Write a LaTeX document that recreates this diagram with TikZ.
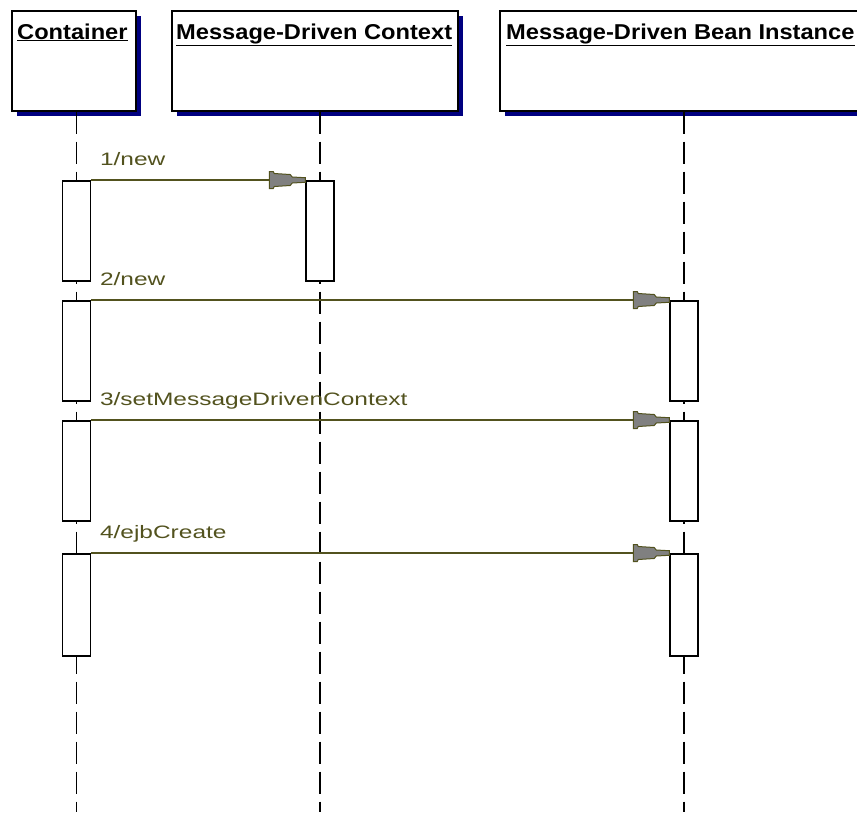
\documentclass[tikz,border=0pt]{standalone}
\usepackage{fontspec}
\newfontfamily\headfont[FakeStretch=1.1]{Liberation Sans}
\newfontfamily\msgfont[FakeStretch=1.36]{Liberation Sans}
\usepackage{tikz}
\usetikzlibrary{arrows.meta}
\usetikzlibrary{shadows}
\usetikzlibrary{positioning,calc}
\definecolor{shadownavy}{RGB}{0,0,128}
\definecolor{msgolive}{RGB}{82,82,30}
\definecolor{tipgray}{RGB}{128,128,128}

% flared message tip: grey body, outline in the line colour
\pgfdeclarearrow{
  name = Funnel,
  setup code = {
    \pgfarrowssettipend{0pt}
    \pgfarrowssetlineend{-20pt}
    \pgfarrowssetbackend{-36pt}
    \pgfarrowssetvisualbackend{-36pt}
    \pgfarrowshullpoint{0pt}{0pt}
    \pgfarrowsupperhullpoint{-36pt}{8.5pt}
  },
  drawing code = {
    \pgfsetfillcolor{tipgray}
    \pgfsetlinewidth{1pt}
    \pgfsetmiterjoin
    \pgfpathmoveto{\pgfqpoint{0pt}{2.3pt}}
    \pgfpathlineto{\pgfqpoint{-13pt}{3pt}}
    \pgfpathlineto{\pgfqpoint{-15pt}{5.5pt}}
    \pgfpathlineto{\pgfqpoint{-31pt}{6.5pt}}
    \pgfpathlineto{\pgfqpoint{-32pt}{8.5pt}}
    \pgfpathlineto{\pgfqpoint{-36pt}{8.5pt}}
    \pgfpathlineto{\pgfqpoint{-36pt}{-8.5pt}}
    \pgfpathlineto{\pgfqpoint{-32pt}{-8.5pt}}
    \pgfpathlineto{\pgfqpoint{-31pt}{-6.5pt}}
    \pgfpathlineto{\pgfqpoint{-15pt}{-5.5pt}}
    \pgfpathlineto{\pgfqpoint{-13pt}{-3pt}}
    \pgfpathlineto{\pgfqpoint{0pt}{-2.3pt}}
    \pgfpathclose
    \pgfusepathqfillstroke
  }
}

\tikzstyle{object} = [draw, line width=1.5pt, fill=white, anchor=north west, inner sep=0pt, minimum height=100pt, drop shadow={shadow xshift=5pt, shadow yshift=-5pt, fill=shadownavy, opacity=1}]
\tikzstyle{object_title} = [anchor=base west, inner sep=0pt, font=\headfont\bfseries\fontsize{21.5}{24}\selectfont]
\tikzstyle{lifeline} = [draw, line width=1.8pt, dash pattern=on 22pt off 8pt]
\tikzstyle{activation} = [draw, fill=white, line width=1.5pt, minimum width=28pt, inner sep=0pt, anchor=north]
\tikzstyle{arrow_msg} = [-Funnel, draw=msgolive, line width=1.5pt]
\tikzstyle{msg_label} = [anchor=base west, inner sep=0pt, text=msgolive, pos=0, xshift=8pt, yshift=14.5pt, font=\msgfont\fontsize{18}{20}\selectfont]

\begin{document}
\begin{tikzpicture}[x=1pt, y=-1pt]
      \useasboundingbox (0,0) rectangle (857,812);

      % Objects
      \node[object, minimum width=124pt] (container) at (11,10) {};
      \node[object, minimum width=286pt] (context) at (171,10) {};
      \node[object, minimum width=400pt] (bean) at (499,10) {};
      \node[object_title] (container_t) at ($(container.north west)+(6,29)$) {\underline{Container}};
      \node[object_title] (context_t) at ($(context.north west)+(5,29)$) {\underline{Message-Driven Context}};
      \node[object_title] (bean_t) at ($(bean.north west)+(7,29)$) {\underline{Message-Driven Bean Instance}};

      % Lifelines
      \coordinate (container_end) at (76.5,812);
      \coordinate (context_end) at (320,812);
      \coordinate (bean_end) at (684,812);
      \path[lifeline] (container.south -| container_end) -- (container_end);
      \path[lifeline] (context.south -| context_end) -- (context_end);
      \path[lifeline] (bean.south -| bean_end) -- (bean_end);

      % Activations
      \node[activation, minimum height=100pt] (c1) at (76.5,180) {};
      \node[activation, minimum height=100pt] (c2) at (76.5,300) {};
      \node[activation, minimum height=100pt] (c3) at (76.5,420) {};
      \node[activation, minimum height=102pt] (c4) at (76.5,553) {};
      \node[activation, minimum height=100pt] (ctx1) at (320,180) {};
      \node[activation, minimum height=100pt] (b2) at (684,300) {};
      \node[activation, minimum height=100pt] (b3) at (684,420) {};
      \node[activation, minimum height=102pt] (b4) at (684,553) {};

      % Messages
      \path[arrow_msg] (c1.north east) -- (ctx1.north west) node[msg_label] {1/new};
      \path[arrow_msg] (c2.north east) -- (b2.north west) node[msg_label] {2/new};
      \path[arrow_msg] (c3.north east) -- (b3.north west) node[msg_label] {3/setMessageDrivenContext};
      \path[arrow_msg] (c4.north east) -- (b4.north west) node[msg_label] {4/ejbCreate};

    \end{tikzpicture}
\end{document}
